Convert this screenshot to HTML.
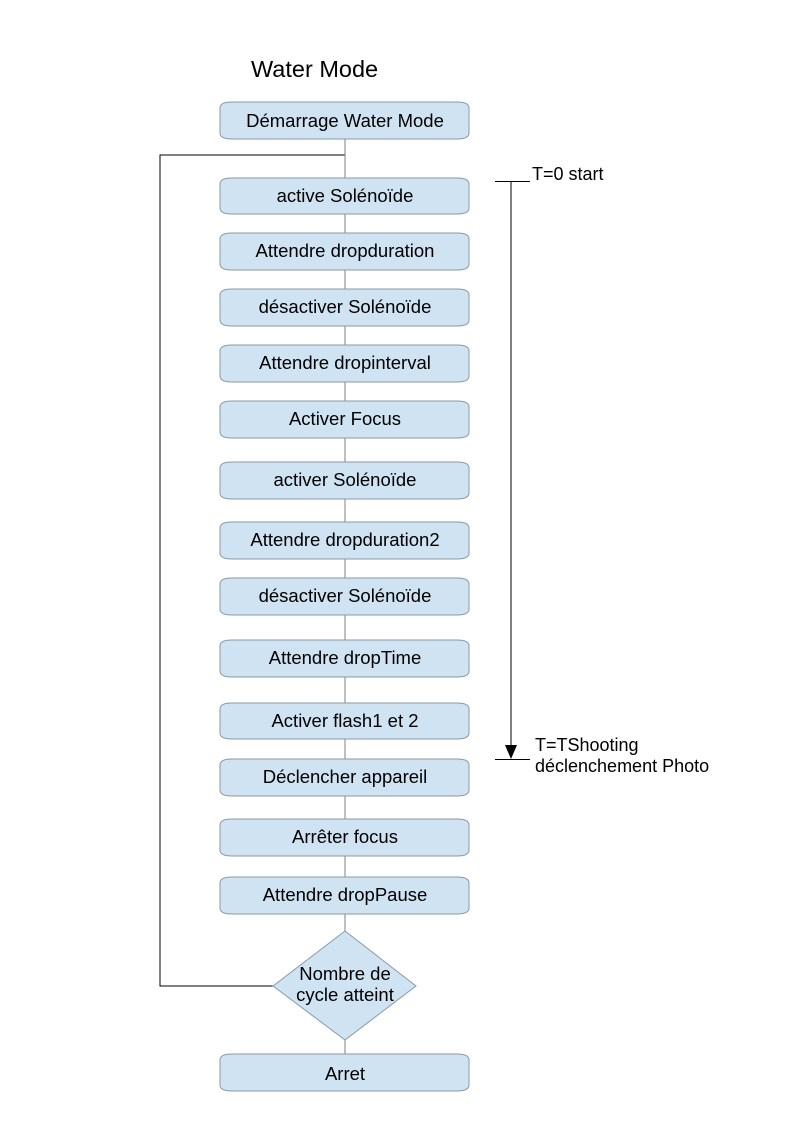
<!DOCTYPE html>
<html><head><meta charset="utf-8"><style>
html,body{margin:0;padding:0;background:#fff;}
svg{display:block;}
text{font-family:"Liberation Sans",Arial,sans-serif;fill:#000;}
</style></head><body>
<svg width="794" height="1123" viewBox="0 0 794 1123">
<text x="251" y="77" font-size="23.5">Water Mode</text>
<g stroke="#000" stroke-width="1" fill="none">
<polyline points="345,155 160,155 160,986 273,986"/>
<line x1="495" y1="181.5" x2="530" y2="181.5"/>
<line x1="511" y1="181" x2="511" y2="748"/>
<line x1="495" y1="759.5" x2="530" y2="759.5"/>
</g>
<polygon points="505,745 517,745 511,759" fill="#000"/>
<line x1="345" y1="139" x2="345" y2="1054" stroke="#808080" stroke-width="1"/>
<g fill="#cfe3f2" stroke="#8a9aa6" stroke-width="1">
<path d="M220,108 Q220,102 232,102 L457,102 Q469,102 469,108 L469,133 Q469,139 457,139 L232,139 Q220,139 220,133 Z"/>
<path d="M220,184 Q220,178 232,178 L457,178 Q469,178 469,184 L469,208 Q469,214 457,214 L232,214 Q220,214 220,208 Z"/>
<path d="M220,239 Q220,233 232,233 L457,233 Q469,233 469,239 L469,264 Q469,270 457,270 L232,270 Q220,270 220,264 Z"/>
<path d="M220,295 Q220,289 232,289 L457,289 Q469,289 469,295 L469,320 Q469,326 457,326 L232,326 Q220,326 220,320 Z"/>
<path d="M220,351 Q220,345 232,345 L457,345 Q469,345 469,351 L469,376 Q469,382 457,382 L232,382 Q220,382 220,376 Z"/>
<path d="M220,407 Q220,401 232,401 L457,401 Q469,401 469,407 L469,432 Q469,438 457,438 L232,438 Q220,438 220,432 Z"/>
<path d="M220,468 Q220,462 232,462 L457,462 Q469,462 469,468 L469,493 Q469,499 457,499 L232,499 Q220,499 220,493 Z"/>
<path d="M220,528 Q220,522 232,522 L457,522 Q469,522 469,528 L469,553 Q469,559 457,559 L232,559 Q220,559 220,553 Z"/>
<path d="M220,584 Q220,578 232,578 L457,578 Q469,578 469,584 L469,609 Q469,615 457,615 L232,615 Q220,615 220,609 Z"/>
<path d="M220,646 Q220,640 232,640 L457,640 Q469,640 469,646 L469,671 Q469,677 457,677 L232,677 Q220,677 220,671 Z"/>
<path d="M220,709 Q220,703 232,703 L457,703 Q469,703 469,709 L469,733 Q469,739 457,739 L232,739 Q220,739 220,733 Z"/>
<path d="M220,765 Q220,759 232,759 L457,759 Q469,759 469,765 L469,790 Q469,796 457,796 L232,796 Q220,796 220,790 Z"/>
<path d="M220,825 Q220,819 232,819 L457,819 Q469,819 469,825 L469,850 Q469,856 457,856 L232,856 Q220,856 220,850 Z"/>
<path d="M220,883 Q220,877 232,877 L457,877 Q469,877 469,883 L469,908 Q469,914 457,914 L232,914 Q220,914 220,908 Z"/>
<path d="M220,1060 Q220,1054 232,1054 L457,1054 Q469,1054 469,1060 L469,1085 Q469,1091 457,1091 L232,1091 Q220,1091 220,1085 Z"/>
<polygon points="345,931 416,986 345,1040 273,986"/>
</g>
<g font-size="18.5" text-anchor="middle">
<text x="345" y="127">Démarrage Water Mode</text>
<text x="345" y="202">active Solénoïde</text>
<text x="345" y="257">Attendre dropduration</text>
<text x="345" y="313">désactiver Solénoïde</text>
<text x="345" y="369">Attendre dropinterval</text>
<text x="345" y="425">Activer Focus</text>
<text x="345" y="486">activer Solénoïde</text>
<text x="345" y="546">Attendre dropduration2</text>
<text x="345" y="602">désactiver Solénoïde</text>
<text x="345" y="664">Attendre dropTime</text>
<text x="345" y="727">Activer flash1 et 2</text>
<text x="345" y="783">Déclencher appareil</text>
<text x="345" y="843">Arrêter focus</text>
<text x="345" y="901">Attendre dropPause</text>
<text x="345" y="980">Nombre de</text>
<text x="345" y="1001">cycle atteint</text>
<text x="345" y="1080">Arret</text>
</g>
<g font-size="18">
<text x="532" y="180">T=0 start</text>
<text x="535" y="751">T=TShooting</text>
<text x="535" y="772">déclenchement Photo</text>
</g>
</svg>
</body></html>
